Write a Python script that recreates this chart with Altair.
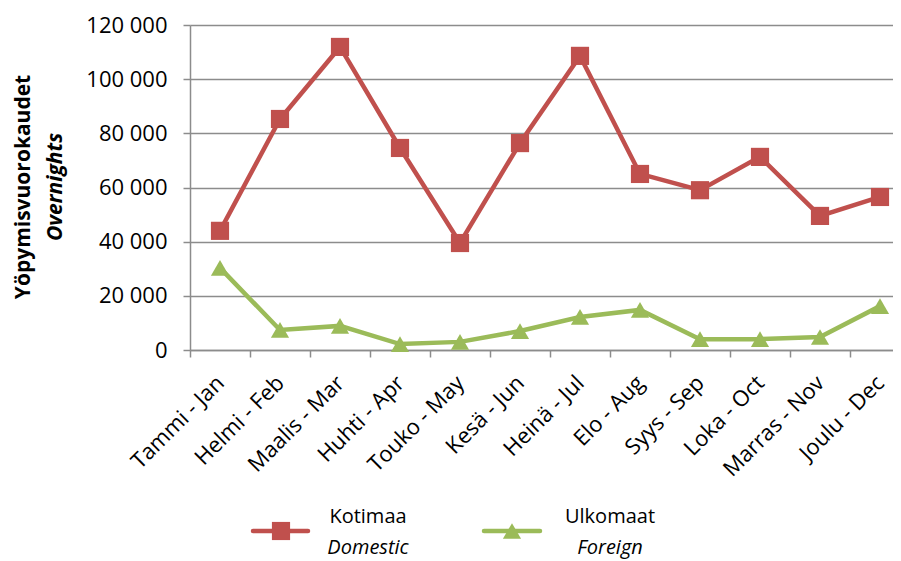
import altair as alt
import pandas as pd

months = ["Tammi - Jan", "Helmi - Feb", "Maalis - Mar", "Huhti - Apr", "Touko - May", "Kesä - Jun",
          "Heinä - Jul", "Elo - Aug", "Syys - Sep", "Loka - Oct", "Marras - Nov", "Joulu - Dec"]
domestic = [44000, 85300, 111900, 74600, 39500, 76400, 108600, 65000, 59000, 71300, 49500, 56500]
foreign = [30300, 7400, 8900, 2200, 3000, 7000, 12200, 14800, 4000, 4000, 4800, 16200]
series = ["Kotimaa", "Ulkomaat"]
y_ticks = [0, 20000, 40000, 60000, 80000, 100000, 120000]

RED = "#C0504D"
GREEN = "#9BBB59"
GRID = "#8C8C8C"
FONT = "Open Sans"

rows = []
for m, d, f in zip(months, domestic, foreign):
    rows.append({"month": m, "series": series[0], "value": d})
    rows.append({"month": m, "series": series[1], "value": f})
df = pd.DataFrame(rows)

color = alt.Color("series:N", scale=alt.Scale(domain=series, range=[RED, GREEN]), legend=None)
shape = alt.Shape("series:N", scale=alt.Scale(domain=series, range=["square", "triangle-up"]), legend=None)

x = alt.X("month:N", sort=months, title=None,
          scale=alt.Scale(type="band", paddingInner=0, paddingOuter=0, range=[0, 720]),
          axis=alt.Axis(labelAngle=-45, labelFontSize=22, labelFont=FONT, labelColor="black",
                        tickBand="extent", tickSize=7, tickColor=GRID, tickWidth=1.5,
                        domainColor=GRID, domainWidth=1.5, grid=False, labelPadding=15,
                        labelOffset=-7))
y = alt.Y("value:Q", title=None, scale=alt.Scale(domain=[0, 120000], nice=False),
          axis=alt.Axis(values=y_ticks, labelExpr="replace(format(datum.value, ','), ',', ' ')",
                        labelFontSize=22, labelFont=FONT, labelColor="black", labelPadding=16,
                        tickSize=7, tickColor=GRID, tickWidth=1.5, domainColor=GRID, domainWidth=1.5,
                        grid=True, gridColor=GRID, gridWidth=1.5))

base = alt.Chart(df).encode(x=x, y=y, color=color)
lines = base.mark_line(strokeWidth=4.5)
points = base.mark_point(filled=True, opacity=1, size=330).encode(shape=shape)

one = pd.DataFrame({"k": [0]})
leg = alt.Chart(one)
leg_layers = [
    leg.mark_rule(color=RED, strokeWidth=4.5, strokeCap="round").encode(
        x=alt.value(63), x2=alt.value(118), y=alt.value(506)),
    leg.mark_point(shape="square", filled=True, opacity=1, size=330, color=RED).encode(
        x=alt.value(91), y=alt.value(506)),
    leg.mark_rule(color=GREEN, strokeWidth=4.5, strokeCap="round").encode(
        x=alt.value(294), x2=alt.value(350), y=alt.value(506)),
    leg.mark_point(shape="triangle-up", filled=True, opacity=1, size=330, color=GREEN).encode(
        x=alt.value(322), y=alt.value(506)),
    leg.mark_text(text="Kotimaa", font=FONT, fontSize=20, align="center", baseline="middle").encode(
        x=alt.value(178), y=alt.value(492)),
    leg.mark_text(text="Domestic", font=FONT, fontSize=20, fontStyle="italic", align="center",
                  baseline="middle").encode(x=alt.value(178), y=alt.value(523)),
    leg.mark_text(text="Ulkomaat", font=FONT, fontSize=20, align="center", baseline="middle").encode(
        x=alt.value(420), y=alt.value(492)),
    leg.mark_text(text="Foreign", font=FONT, fontSize=20, fontStyle="italic", align="center",
                  baseline="middle").encode(x=alt.value(420), y=alt.value(523)),
    leg.mark_text(text="Yöpymisvuorokaudet", font=FONT, fontSize=21, fontWeight="bold", angle=270,
                  align="center", baseline="middle").encode(x=alt.value(-166), y=alt.value(162)),
    leg.mark_text(text="Overnights", font=FONT, fontSize=21, fontWeight="bold", fontStyle="italic",
                  angle=270, align="center", baseline="middle").encode(x=alt.value(-134), y=alt.value(162)),
]

chart = alt.layer(lines, points, *leg_layers).properties(
    width=703, height=325,
    autosize=alt.AutoSizeParams(type="none"),
    padding={"left": 182, "top": 17, "right": 0, "bottom": 211},
).configure_view(stroke=None)

chart.save("out.html", embed_options={"renderer": "svg", "actions": False})
